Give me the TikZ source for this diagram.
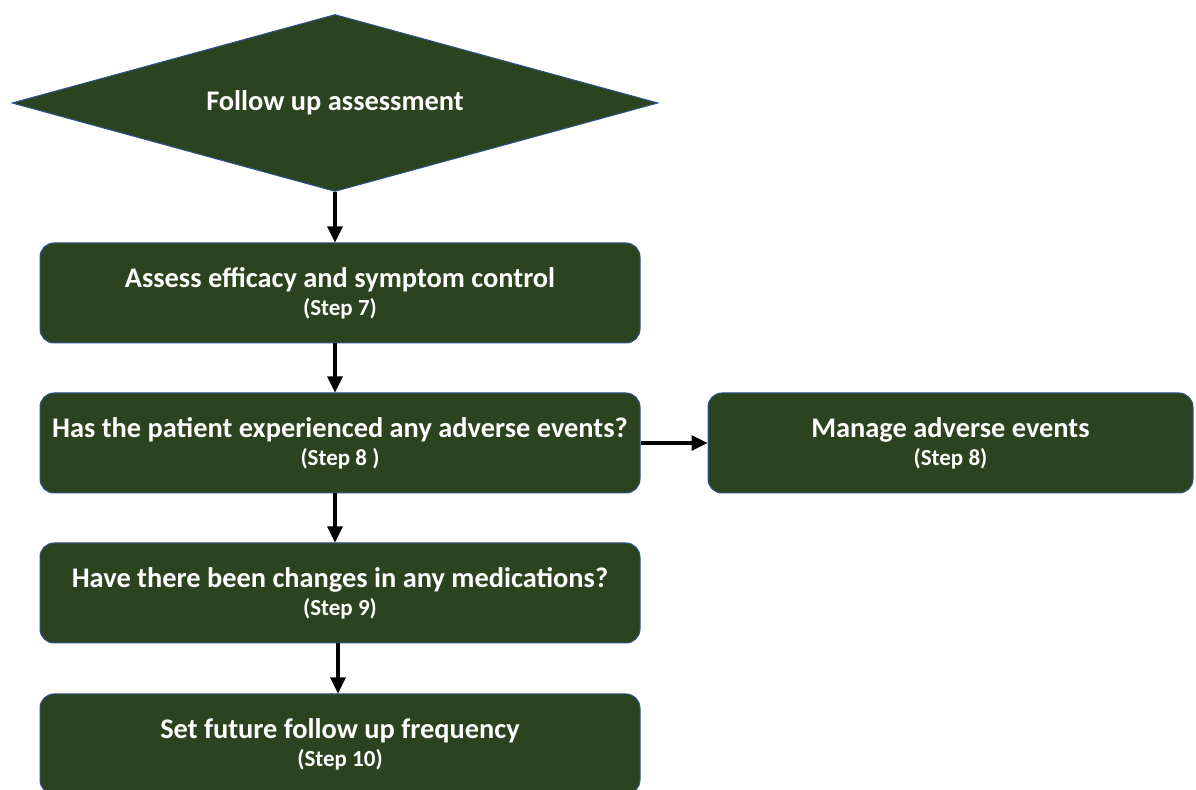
\documentclass[tikz,border=0pt]{standalone}
\usepackage{fontspec}
\setmainfont{Carlito}
\usepackage{tikz}
\usetikzlibrary{shapes.geometric,arrows.meta}
\definecolor{stepgreen}{RGB}{43,68,31}
\definecolor{stepedge}{RGB}{47,82,143}
\newcommand{\stepno}[1]{\\{\fontsize{11.5}{14}\selectfont (Step #1)}}
\tikzset{
  stepbox/.style={ draw=stepedge, line width=0.5pt, fill=stepgreen, rounded corners=7pt,
    minimum width=300pt, minimum height=50pt, inner sep=0pt, align=center, text=white,
    font=\bfseries\fontsize{14.2}{14}\selectfont }
}
\tikzset{
  startdiam/.style={ draw=stepedge, line width=0.5pt, fill=stepgreen, diamond, aspect=3.65, inner sep=0pt,
    minimum width=323pt, minimum height=88.5pt, text=white, font=\bfseries\fontsize{14.2}{14}\selectfont }
}
\tikzset{
  flow/.style={ line width=1.6pt, -{Triangle[length=8pt, width=7.5pt]} }
}

\begin{document}
\begin{tikzpicture}[x=0.5pt, y=-0.5pt]
      \useasboundingbox (0, 0) rectangle (1196, 790);
      \node[startdiam] (start) at (335, 103) {Follow up assessment};
      \node[stepbox] (assess) at (340, 293) {Assess efficacy and symptom control\stepno{7}};
      \node[stepbox] (adverse) at (340, 443) {Has the patient experienced any adverse events?\stepno{8 }};
      \node[stepbox, minimum width=242.5pt] (manage) at (950.5, 443) {Manage adverse events\stepno{8}};
      \node[stepbox] (meds) at (340, 593) {Have there been changes in any medications?\stepno{9}};
      \node[stepbox] (freq) at (340, 744) {Set future follow up frequency\stepno{10}};

      \draw[flow] (start.south) -- (start.south |- assess.north);
      \draw[flow] (assess.south -| start.south) -- (adverse.north -| start.south);
      \draw[flow] (adverse.east) -- (manage.west);
      \draw[flow] (adverse.south -| start.south) -- (meds.north -| start.south);
      \draw[flow] ([xshift=1.5pt]meds.south -| start.south) -- ([xshift=1.5pt]freq.north -| start.south);
    \end{tikzpicture}
\end{document}
